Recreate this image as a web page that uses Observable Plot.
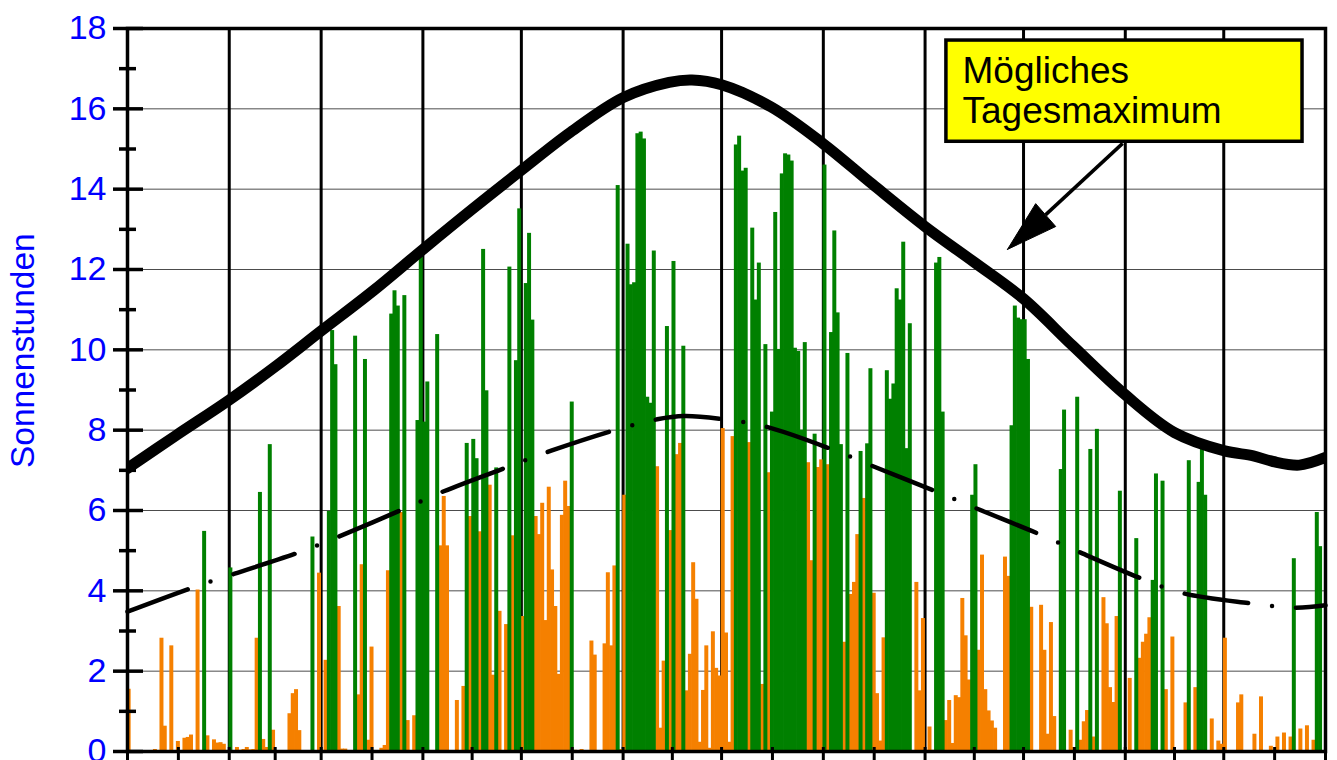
<!DOCTYPE html>
<html><head><meta charset="utf-8">
<script src="https://cdn.jsdelivr.net/npm/d3@7"></script>
<script src="https://cdn.jsdelivr.net/npm/@observablehq/plot@0.6"></script>
<style>
html,body{margin:0;padding:0;background:#fff;overflow:hidden;}
#chart svg{display:block;}
</style></head>
<body><div id="chart"></div>
<script>
// Daily sunshine hours, one array per month
const jan = [1.55,0,0,0,0,0,0,0,0.05,0, 2.82,0.63,0,2.63,0,0.25,0,0.33,0.35,0.41, 0,4.02,0,5.48,0.39,0,0.29,0.21,0.22,0.18, 0];
const feb = [4.57,0,0.1,0.03,0.05,0.1,0.04,0.05,2.82,6.45, 0.3,0.1,7.64,0.53,0,0,0,0,0.94,1.44, 1.54,0.52,0,0,0,5.34,0,4.44];
const mar = [0,2.27,5.98,10.48,9.63,3.61,0.06,0.06,0,0, 10.34,1.41,4.65,9.76,0.28,2.6,0,0,0.08,0.15, 4.5,10.89,11.47,11.09,5.95,11.35,0.77,0,0.89,8.24, 12.31];
const apr = [8.2,9.2,0,0,10.38,5.12,6.35,5.12,0,0, 1.27,0,1.62,7.67,5.85,7.77,7.29,5.47,12.5,8.98, 6.63,1.9,7.06,3.49,0,3.16,12.06,5.37,9.73,13.51];
const may = [3.36,11.65,12.9,10.74,5.85,5.4,6.18,3.26,6.58,4.52, 3.61,1.92,5.88,6.73,6.1,8.7,0.03,0,0.05,0, 0,2.75,2.4,0,0,2.68,4.45,2.63,4.62,14.09, 0.05];
const jun = [6.38,12.63,11.62,11.67,15.38,15.42,15.25,8.82,8.67,12.46, 7.09,0.58,2.25,10.58,5.5,12.2,7.39,7.67,10.09,1.51, 2.42,4.7,3.79,0.23,1.52,2.63,0.08,2.98,2.07,1.88];
const jul = [8.04,2.95,0.23,7.84,15.1,15.32,14.45,14.52,7.69,13.03, 11.24,12.16,1.67,10.13,6.94,8.45,13.42,10.01,14.38,14.88, 14.85,14.7,10.04,9.96,8.0,10.18,7.19,4.75,7.9,7.07, 7.26];
const aug = [14.6,7.14,10.43,12.96,10.92,7.64,2.72,9.91,3.91,4.21, 5.4,7.47,6.3,7.66,9.53,3.94,1.44,0.26,2.83,9.48, 8.77,9.15,11.52,11.24,12.68,7.54,10.65,0,4.21,1.51, 3.31];
const sep = [0.03,0.61,0.03,12.16,12.3,8.45,0.77,1.27,0.2,1.39, 1.34,3.81,2.88,1.78,6.38,7.14,2.52,4.89,1.54,1.01, 0.76,0.58,0,0,4.84,4.36,8.11,11.09,10.79,10.75];
const oct = [10.75,9.76,3.59,0,0.02,3.64,2.52,0.43,3.21,0.87, 0,7.02,8.5,0,0.53,0.1,8.82,0.28,0.74,1.02, 7.52,0.36,8.02,0,3.83,3.18,1.59,1.22,3.36,6.48, 0];
const nov = [0,1.82,0,5.3,2.32,2.72,2.92,3.33,4.26,6.91, 0,6.73,1.54,0,2.85,0,0,0,1.21,7.24, 0,1.59,6.7,7.61,6.38,0,0.81,0,0.26,0.18];
const dec = [2.82,0,0,0,1.21,1.41,0,0,0,0.43, 0,1.36,0,0,0.13,0,0.36,0,0.46,0, 0.36,4.8,0,0.56,0,0.64,0,0.28,5.95,5.1, 0];

// Month boundaries and mid-month ticks (day of year)
const monthStarts = [0,31,59,90,120,151,181,212,243,273,304,334,365];
const monthMids = [15.5,45,74.5,105,135.5,166,196.5,227.5,258,288.5,319,349.5];

// "Mögliches Tagesmaximum" curve
const maxDays   = [0,15,31,45,59,75,90,105,120,135,151,165,172,181,196,212,227,243,258,273,288,304,319,334,343,349,357,365];
const maxValues = [7.05,7.88,8.75,9.58,10.47,11.48,12.5,13.5,14.47,15.42,16.28,16.66,16.72,16.6,16.05,15.13,14.12,13.07,12.18,11.27,10.1,8.88,7.94,7.49,7.36,7.22,7.13,7.32];

// Long-term mean curve (dash-dot)
const meanDays   = [0,20.2,32.4,52.7,64.9,84.5,96.4,116.7,129.1,149.2,161.4,169.5,181.7,194.4,214.7,226.9,246.7,258.7,278.4,290.4,309.7,322.1,342.2,354.9,365];
const meanValues = [3.48,4.09,4.42,4.97,5.37,6.05,6.48,7.11,7.49,8.02,8.27,8.35,8.27,8.09,7.52,7.11,6.46,6.05,5.39,4.95,4.28,3.93,3.69,3.58,3.64];

const yMajor = [0,2,4,6,8,10,12,14,16,18];
const yMinor = [1,3,5,7,9,11,13,15,17];
const yLabel = "Sonnenstunden";

// Annotation
const noteLines = ["Mögliches", "Tagesmaximum"];
const noteLineValues = [16.95, 15.95];
const noteTextDay = 254.4;
const noteBoxDays = [249.5, 358];
const noteBoxValues = [15.18, 17.7];
const arrowDays = [303.2, 279.7];
const arrowValues = [15.14, 13.36];
const headDays = [268.1, 276.7, 282.8, 268.1];
const headValues = [12.5, 13.64, 13.07, 12.5];

const GREEN = "#008000", ORANGE = "#f58000", BLUE = "#0000ff";

const sunshine = [].concat(jan, feb, mar, apr, may, jun, jul, aug, sep, oct, nov, dec);
const meanAt = d3.scaleLinear().domain(meanDays).range(meanValues);
const days = sunshine.map((v, i) => ({day: i, value: v})).filter(d => d.value > 0);
const above = days.filter(d => d.value > meanAt(d.day));
const below = days.filter(d => d.value <= meanAt(d.day));
const maxPts = maxDays.map((d, i) => ({day: d, value: maxValues[i]}));
const meanPts = meanDays.map((d, i) => ({day: d, value: meanValues[i]}));
const headPts = headDays.map((d, i) => ({day: d, value: headValues[i]}));

const chart = Plot.plot({
  width: 1337, height: 760,
  marginLeft: 127, marginRight: 12, marginTop: 28, marginBottom: 9,
  x: {domain: [0, 365]},
  y: {domain: [0, 18]},
  style: {fontFamily: "'Liberation Sans', Arial, sans-serif", background: "white", overflow: "visible"},
  marks: [
    Plot.ruleY(yMajor.slice(1, -1), {stroke: "#000", strokeOpacity: 0.7, strokeWidth: 1}),
    Plot.ruleX(monthStarts.slice(1, -1), {stroke: "#000", strokeWidth: 3}),
    Plot.rectY(below, {x1: "day", x2: d => d.day + 1, y: "value", fill: ORANGE, insetLeft: -0.35, insetRight: -0.35}),
    Plot.rectY(above, {x1: "day", x2: d => d.day + 1, y: "value", fill: GREEN, insetLeft: -0.35, insetRight: -0.35}),
    Plot.line(meanPts, {x: "day", y: "value", curve: "catmull-rom", stroke: "#000", strokeWidth: 4.5, strokeDasharray: "64,24.25,0,24.25", strokeLinecap: "round"}),
    Plot.line(maxPts, {x: "day", y: "value", curve: "catmull-rom", stroke: "#000", strokeWidth: 11, clip: true}),
    Plot.frame({stroke: "#000", strokeWidth: 3.5}),
    Plot.axisY({ticks: yMajor, tickSize: 0, tickPadding: 21, fontSize: 34, fill: BLUE, label: null, tickFormat: d => String(d)}),
    Plot.axisY({ticks: yMajor, tickSize: 30, dx: 16, fill: "none", stroke: "#000", strokeWidth: 3.5, label: null}),
    Plot.axisY({ticks: yMinor, tickSize: 17, dx: 9, fill: "none", stroke: "#000", strokeWidth: 3.5, label: null}),
    Plot.axisX({ticks: monthStarts.concat(monthMids), tickSize: 14, dy: -4, fill: "none", stroke: "#000", strokeWidth: 3, label: null}),
    Plot.text([yLabel], {frameAnchor: "left", y: () => 9.98, dx: -104, rotate: -90, textAnchor: "middle", fontSize: 33.5, fill: BLUE, text: d => d}),
    Plot.rect([0], {x1: () => noteBoxDays[0], x2: () => noteBoxDays[1], y1: () => noteBoxValues[0], y2: () => noteBoxValues[1], fill: "#ffff00", stroke: "#000", strokeWidth: 3.5}),
    Plot.text(noteLines, {x: () => noteTextDay, y: (d, i) => noteLineValues[i], text: d => d, textAnchor: "start", fontSize: 37, fill: "#000"}),
    Plot.link([0], {x1: () => arrowDays[0], y1: () => arrowValues[0], x2: () => arrowDays[1], y2: () => arrowValues[1], stroke: "#000", strokeWidth: 3.5}),
    Plot.line(headPts, {x: "day", y: "value", fill: "#000", stroke: "#000", strokeWidth: 1})
  ]
});
document.getElementById("chart").appendChild(chart);
</script>
</body></html>
